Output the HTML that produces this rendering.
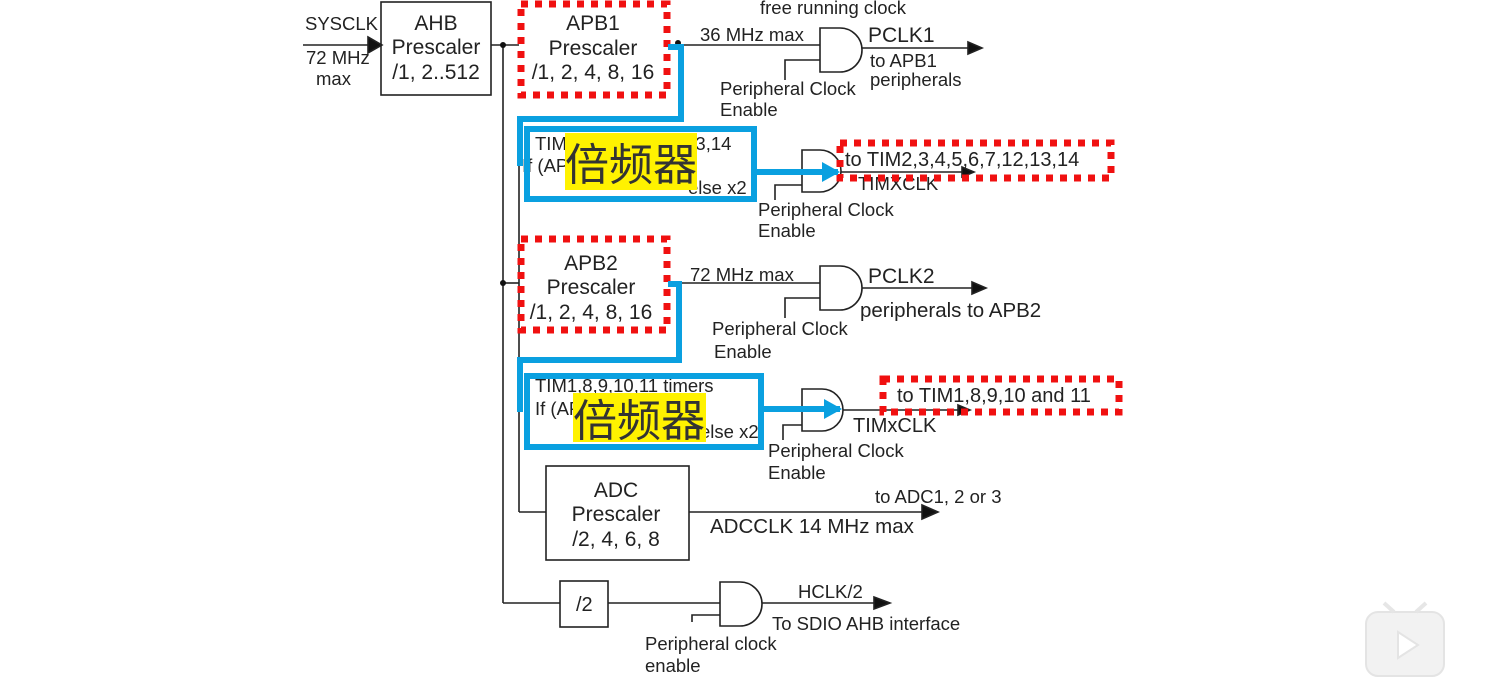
<!DOCTYPE html>
<html><head><meta charset="utf-8"><style>
html,body{margin:0;padding:0;background:#fff;width:1491px;height:690px;overflow:hidden}
svg text{font-family:"Liberation Sans",Arial,sans-serif;fill:#222}
.cjk{font-family:"Liberation Sans","Noto Sans CJK SC",sans-serif;fill:#333}
</style></head><body>
<svg width="1491" height="690" viewBox="0 0 1491 690" xmlns="http://www.w3.org/2000/svg">
<defs>
<marker id="bh" markerWidth="18" markerHeight="20" refX="16" refY="10" orient="auto" markerUnits="userSpaceOnUse"><path d="M0,0 L18,10 L0,20 z" fill="#0aa0e0"/></marker>
</defs>
<g stroke="#222" stroke-width="1.6" fill="none">
<line x1="303" y1="45" x2="372" y2="45"/>
<path d="M368,37 L382,45 L368,53 z" fill="#111"/>
<rect x="381" y="2" width="110" height="93"/>
<line x1="491" y1="45" x2="519" y2="45"/>
<line x1="503" y1="45" x2="503" y2="603"/>
<line x1="503" y1="283" x2="519" y2="283"/>
<line x1="519" y1="165" x2="519" y2="512"/>
<line x1="519" y1="512" x2="546" y2="512"/>
<line x1="668" y1="45" x2="820" y2="45"/>
<path d="M820,28 L840,28 A22,22 0 0 1 840,72 L820,72 Z"/>
<line x1="862" y1="48" x2="975" y2="48"/>
<path d="M968,42 L982,48 L968,54 z" fill="#111"/>
<path d="M785,80 L785,60 L820,60"/>
<path d="M802,150 L820,150 A21,21 0 0 1 820,192 L802,192 Z"/>
<line x1="841" y1="172" x2="968" y2="172"/>
<path d="M962,167 L974,172 L962,177 z" fill="#111"/>
<path d="M775,200 L775,185 L802,185"/>
<line x1="668" y1="283" x2="820" y2="283"/>
<path d="M820,266 L840,266 A22,22 0 0 1 840,310 L820,310 Z"/>
<line x1="862" y1="288" x2="978" y2="288"/>
<path d="M972,282 L986,288 L972,294 z" fill="#111"/>
<path d="M785,318 L785,298 L820,298"/>
<path d="M802,389 L822,389 A21,21 0 0 1 822,431 L802,431 Z"/>
<line x1="843" y1="410" x2="965" y2="410"/>
<path d="M958,405 L970,410 L958,415 z" fill="#111"/>
<path d="M783,440 L783,425 L802,425"/>
<rect x="546" y="466" width="143" height="94"/>
<line x1="689" y1="512" x2="930" y2="512"/>
<path d="M922,505 L938,512 L922,519 z" fill="#111"/>
<line x1="503" y1="603" x2="560" y2="603"/>
<rect x="560" y="581" width="48" height="46"/>
<line x1="608" y1="603" x2="720" y2="603"/>
<path d="M720,582 L740,582 A22,22 0 0 1 740,626 L720,626 Z"/>
<line x1="762" y1="603" x2="880" y2="603"/>
<path d="M874,597 L890,603 L874,609 z" fill="#111"/>
<path d="M692,622 L692,615 L720,615"/>
</g>
<circle cx="503" cy="45" r="3" fill="#111"/>
<circle cx="503" cy="283" r="3" fill="#111"/>
<circle cx="678" cy="43" r="3" fill="#111"/>
<g font-size="18.5">
<text x="305" y="30">SYSCLK</text>
<text x="306" y="64">72 MHz</text>
<text x="316" y="85">max</text>
<text x="436" y="30" text-anchor="middle" font-size="21">AHB</text>
<text x="436" y="54" text-anchor="middle" font-size="21">Prescaler</text>
<text x="436" y="79" text-anchor="middle" font-size="21">/1, 2..512</text>
<text x="593" y="30" text-anchor="middle" font-size="21">APB1</text>
<text x="593" y="55" text-anchor="middle" font-size="21">Prescaler</text>
<text x="593" y="79" text-anchor="middle" font-size="21">/1, 2, 4, 8, 16</text>
<text x="760" y="14">free running clock</text>
<text x="700" y="41">36 MHz max</text>
<text x="868" y="42" font-size="21">PCLK1</text>
<text x="870" y="67">to APB1</text>
<text x="870" y="86">peripherals</text>
<text x="720" y="95">Peripheral Clock</text>
<text x="720" y="116">Enable</text>
<text x="535" y="150">TIM2,3,4,5,6,7,12,13,14</text>
<text x="522" y="172">If (APB1 presc=1) x1</text>
<text x="688" y="194">else x2</text>
<text x="845" y="166" font-size="20">to TIM2,3,4,5,6,7,12,13,14</text>
<text x="858" y="190">TIMXCLK</text>
<text x="758" y="216">Peripheral Clock</text>
<text x="758" y="237">Enable</text>
<text x="591" y="270" text-anchor="middle" font-size="21">APB2</text>
<text x="591" y="294" text-anchor="middle" font-size="21">Prescaler</text>
<text x="591" y="319" text-anchor="middle" font-size="21">/1, 2, 4, 8, 16</text>
<text x="690" y="281">72 MHz max</text>
<text x="868" y="283" font-size="21">PCLK2</text>
<text x="860" y="317" font-size="20.5">peripherals to APB2</text>
<text x="712" y="335">Peripheral Clock</text>
<text x="714" y="358">Enable</text>
<text x="535" y="392">TIM1,8,9,10,11 timers</text>
<text x="535" y="415">If (APB2 presc=1) x1</text>
<text x="700" y="438">else x2</text>
<text x="897" y="402" font-size="20">to TIM1,8,9,10 and 11</text>
<text x="853" y="432" font-size="20">TIMxCLK</text>
<text x="768" y="457">Peripheral Clock</text>
<text x="768" y="479">Enable</text>
<text x="616" y="497" text-anchor="middle" font-size="21">ADC</text>
<text x="616" y="521" text-anchor="middle" font-size="21">Prescaler</text>
<text x="616" y="546" text-anchor="middle" font-size="21">/2, 4, 6, 8</text>
<text x="875" y="503">to ADC1, 2 or 3</text>
<text x="710" y="533" font-size="20.5">ADCCLK 14 MHz max</text>
<text x="576" y="611" font-size="20">/2</text>
<text x="798" y="598">HCLK/2</text>
<text x="772" y="630">To SDIO AHB interface</text>
<text x="645" y="650">Peripheral clock</text>
<text x="645" y="672">enable</text>
</g>
<g stroke="#f01010" stroke-width="7" fill="none" stroke-dasharray="7,7">
<rect x="521" y="4" width="146" height="91"/>
<rect x="521" y="239" width="146" height="91"/>
<rect x="840" y="143" width="271" height="35"/>
<rect x="883" y="379" width="236" height="33"/>
</g>
<g stroke="#0aa0e0" stroke-width="6" fill="none">
<path d="M668,47 L681,47 L681,119 L520,119 L520,166"/>
<rect x="527" y="129" width="227" height="70"/>
<line x1="754" y1="172" x2="838" y2="172" marker-end="url(#bh)"/>
<path d="M668,284 L679,284 L679,360 L520,360 L520,412"/>
<rect x="527" y="376" width="234" height="71"/>
<line x1="761" y1="409" x2="840" y2="409" marker-end="url(#bh)"/>
</g>
<rect x="565" y="133" width="132" height="57" fill="#fff200"/>
<text class="cjk" x="631" y="180" font-size="44" text-anchor="middle">倍频器</text>
<rect x="573" y="393" width="133" height="49" fill="#fff200"/>
<text class="cjk" x="639" y="436" font-size="44" text-anchor="middle">倍频器</text>
<rect x="1366" y="612" width="78" height="64" rx="12" fill="#f2f2f2" stroke="#e4e4e4" stroke-width="2"/>
<path d="M1398,632 L1418,645 L1398,658 z" fill="#fff" stroke="#e4e4e4" stroke-width="2"/>
<path d="M1384,603 L1394,612 M1426,603 L1416,612" stroke="#e6e6e6" stroke-width="4"/>
</svg>
</body></html>
